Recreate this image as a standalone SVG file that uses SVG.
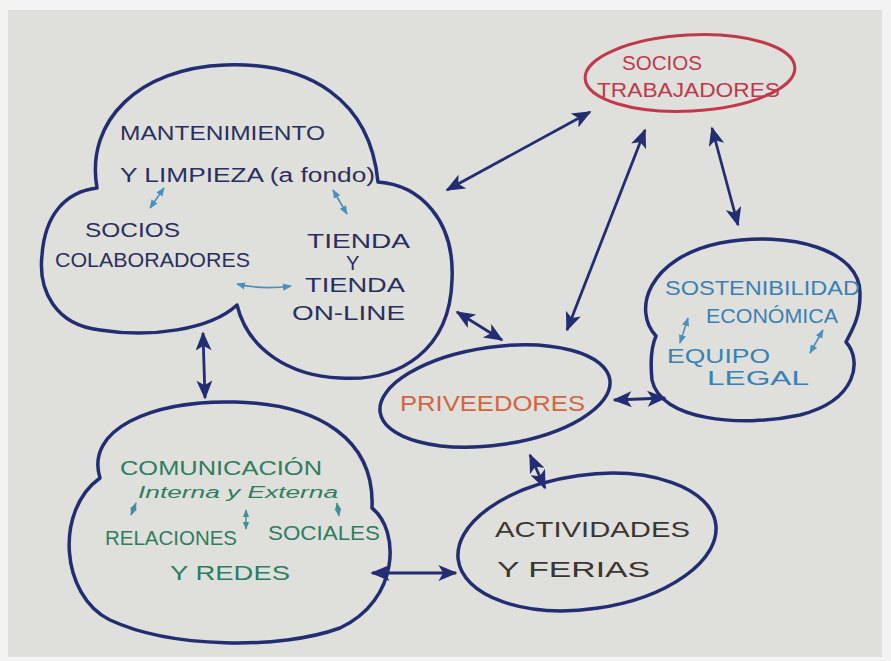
<svg xmlns="http://www.w3.org/2000/svg" width="891" height="661" viewBox="0 0 891 661">
<defs>
<marker id="ah" viewBox="0 0 12 10" refX="11" refY="5" markerWidth="22" markerHeight="16" markerUnits="userSpaceOnUse" orient="auto-start-reverse">
<path d="M0,0 L12,5 L0,10 L3,5 Z" fill="#232d72"/>
</marker>
<marker id="sa" viewBox="0 0 10 8" refX="9" refY="4" markerWidth="9" markerHeight="8" markerUnits="userSpaceOnUse" orient="auto-start-reverse">
<path d="M0,0 L10,4 L0,8 Z" fill="#4a8fbd"/>
</marker>
<marker id="ga" viewBox="0 0 10 8" refX="9" refY="4" markerWidth="8" markerHeight="7" markerUnits="userSpaceOnUse" orient="auto-start-reverse">
<path d="M0,0 L10,4 L0,8 Z" fill="#3f8f9a"/>
</marker>
</defs>
<style>
.shape{fill:none;stroke:#232d72;stroke-width:3.5;stroke-linejoin:round}
.red{fill:none;stroke:#c0394a;stroke-width:3}
.conn{stroke:#232d72;stroke-width:2.8;fill:none;marker-start:url(#ah);marker-end:url(#ah)}
.small{stroke:#4a8fbd;stroke-width:1.6;fill:none;marker-start:url(#sa);marker-end:url(#sa)}
.smallg{stroke:#3f8f9a;stroke-width:1.4;fill:none;marker-start:url(#ga);marker-end:url(#ga)}
text{font-family:"Liberation Sans","DejaVu Sans",sans-serif;font-size:20px}
.navy{fill:#2b2f5e}
.redt{fill:#c0394a}
.bluet{fill:#3a80b6}
.orange{fill:#d0663f}
.dark{fill:#3b3631}
.green{fill:#2f7d5f}
</style>
<rect x="0" y="0" width="891" height="661" fill="#f3f3f3"/>
<rect x="8" y="10" width="874" height="647" fill="#dfe0dc"/>

<g id="connectors">
<line class="conn" x1="590" y1="112" x2="447" y2="190"/>
<line class="conn" x1="645" y1="130" x2="567" y2="330"/>
<line class="conn" x1="712" y1="128" x2="738" y2="225"/>
<line class="conn" x1="457" y1="312" x2="502" y2="340"/>
<line class="conn" x1="203" y1="333" x2="205" y2="398"/>
<line class="conn" x1="614" y1="400" x2="665" y2="398"/>
<line class="conn" x1="530" y1="455" x2="545" y2="488"/>
<line class="conn" x1="372" y1="573" x2="456" y2="573"/>
</g>

<g id="mantenimiento">
<path class="shape" d="M97,188 C85,120 140,68 225,65 C310,62 370,100 378,182 C420,185 455,220 452,280 C450,350 400,382 340,378 C290,376 248,350 237,305 C210,330 150,338 100,330 C55,325 38,290 42,255 C45,215 65,192 97,188 Z"/>
<text class="navy" x="120" y="140" textLength="205" lengthAdjust="spacingAndGlyphs">MANTENIMIENTO</text>
<text class="navy" x="120" y="182" textLength="255" lengthAdjust="spacingAndGlyphs">Y LIMPIEZA (a fondo)</text>
<text class="navy" x="85" y="237" textLength="95" lengthAdjust="spacingAndGlyphs">SOCIOS</text>
<text class="navy" x="55" y="267" textLength="195" lengthAdjust="spacingAndGlyphs">COLABORADORES</text>
<text class="navy" x="307" y="248" textLength="103" lengthAdjust="spacingAndGlyphs">TIENDA</text>
<text class="navy" x="346" y="270">Y</text>
<text class="navy" x="305" y="292" textLength="100" lengthAdjust="spacingAndGlyphs">TIENDA</text>
<text class="navy" x="292" y="320" textLength="113" lengthAdjust="spacingAndGlyphs">ON-LINE</text>
<line class="small" x1="164" y1="188" x2="150" y2="208"/>
<line class="small" x1="333" y1="190" x2="347" y2="214"/>
<path class="small" d="M237,284 Q262,290 291,286"/>
</g>

<g id="socios-trabajadores">
<ellipse class="red" cx="690" cy="73" rx="105" ry="38" transform="rotate(-3 690 73)"/>
<text class="redt" x="622" y="70" textLength="80" lengthAdjust="spacingAndGlyphs">SOCIOS</text>
<text class="redt" x="597" y="97" textLength="183" lengthAdjust="spacingAndGlyphs">TRABAJADORES</text>
</g>

<g id="sostenibilidad">
<path class="shape" d="M656,336 C632,310 648,258 720,243 C790,230 862,250 860,295 C860,318 852,330 846,342 C862,360 858,400 800,415 C740,428 660,420 652,380 C650,360 652,345 656,336 Z"/>
<text class="bluet" x="665" y="295" textLength="195" lengthAdjust="spacingAndGlyphs">SOSTENIBILIDAD</text>
<text class="bluet" x="706" y="323" textLength="132" lengthAdjust="spacingAndGlyphs">ECONÓMICA</text>
<text class="bluet" x="667" y="363" textLength="103" lengthAdjust="spacingAndGlyphs">EQUIPO</text>
<text class="bluet" x="707" y="385" textLength="102" lengthAdjust="spacingAndGlyphs">LEGAL</text>
<line class="small" x1="688" y1="318" x2="680" y2="343"/>
<line class="small" x1="823" y1="330" x2="810" y2="353"/>
</g>

<g id="priveedores">
<ellipse class="shape" cx="495" cy="396" rx="116" ry="49" transform="rotate(-8 495 396)"/>
<text class="orange" x="400" y="411" style="font-size:22px" textLength="185" lengthAdjust="spacingAndGlyphs">PRIVEEDORES</text>
</g>

<g id="actividades">
<ellipse class="shape" cx="587" cy="542" rx="130" ry="67" transform="rotate(-8 587 542)"/>
<text class="dark" x="495" y="537" style="font-size:22px" textLength="195" lengthAdjust="spacingAndGlyphs">ACTIVIDADES</text>
<text class="dark" x="497" y="577" style="font-size:22px" textLength="153" lengthAdjust="spacingAndGlyphs">Y FERIAS</text>
</g>

<g id="comunicacion">
<path class="shape" d="M100,478 C85,430 150,400 235,402 C320,404 375,440 372,508 C400,530 400,600 340,628 C280,650 170,648 110,620 C60,595 55,510 100,478 Z"/>
<text class="green" x="120" y="475" textLength="202" lengthAdjust="spacingAndGlyphs">COMUNICACIÓN</text>
<text class="green" x="138" y="498" style="font-size:16px;font-style:italic" textLength="200" lengthAdjust="spacingAndGlyphs">Interna y Externa</text>
<text class="green" x="105" y="545" textLength="132" lengthAdjust="spacingAndGlyphs">RELACIONES</text>
<text class="green" x="268" y="540" textLength="112" lengthAdjust="spacingAndGlyphs">SOCIALES</text>
<text class="green" x="170" y="580" textLength="120" lengthAdjust="spacingAndGlyphs">Y REDES</text>
<line class="smallg" x1="131" y1="515" x2="136" y2="503"/>
<line class="smallg" x1="246" y1="510" x2="246" y2="529"/>
<line class="smallg" x1="337" y1="503" x2="339" y2="516"/>
</g>
</svg>
